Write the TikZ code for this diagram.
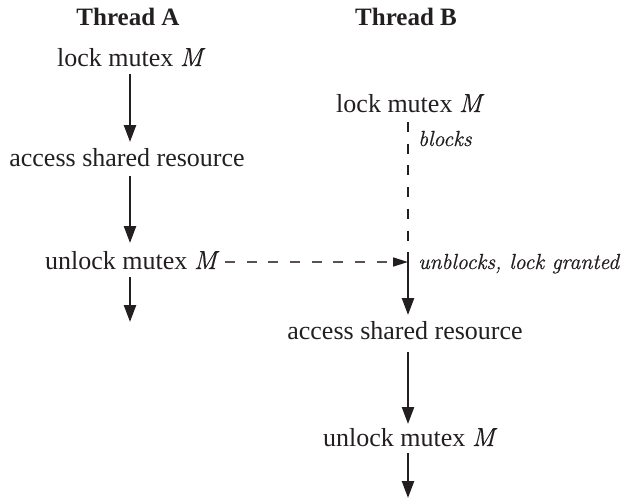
\documentclass[tikz,border=0pt]{standalone}
\usepackage{fontspec}
\setmainfont{Liberation Serif}
\newfontfamily\lmrom{Latin Modern Roman}[ItalicFeatures={FakeBold=0.6}]
\newcommand{\itM}{{\lmrom\itshape M}}
\usetikzlibrary{arrows.meta}
\definecolor{ink}{HTML}{231F20}
\definecolor{dashgray}{HTML}{5B5052}
\begin{document}
\begin{tikzpicture}[x=1pt,y=-1pt,
  lbl/.style={inner sep=0pt,anchor=base,text=ink,font=\fontsize{26}{30}\selectfont},
  hdr/.style={lbl,font=\fontsize{25}{30}\selectfont\bfseries},
  note/.style={lbl,anchor=base west,font=\fontsize{21.8}{26}\selectfont\lmrom\itshape},
  arr/.style={draw=ink,line width=2.4pt,-{Triangle[length=17pt,width=12pt]}},
  waitline/.style={draw=ink,line width=2.4pt,dash pattern=on 10pt off 11.7pt},
  signal/.style={draw=dashgray,line width=1.6pt,dash pattern=on 10pt off 11.7pt,
    -{Triangle[length=15pt,width=9pt,color=ink]}}]
\useasboundingbox (0,0) rectangle (629,498);
% columns
\coordinate (xA) at (130,0);
\coordinate (J) at (408,262);
\coordinate (endA) at (130,322);
\coordinate (endB) at (408,498);
% headers
\node[hdr] (TA) at (128,25) {Thread A};
\node[hdr] (TB) at (406,25) {Thread B};
% thread A
\node[lbl] (A1) at (130,66) {lock mutex \itM};
\node[lbl] (A2) at (127,166) {access shared resource};
\node[lbl] (A3) at (131,269) {unlock mutex \itM};
% thread B
\node[lbl] (B1) at (409,112) {lock mutex \itM};
\node[note] (BL) at (418,146) {blocks};
\node[note] (UB) at (418,269) {unblocks, lock granted};
\node[lbl] (B2) at (405,339) {access shared resource};
\node[lbl] (B3) at (409,446) {unlock mutex \itM};
% thread A arrows
\draw[arr] ([yshift=-8pt]A1.base -| xA) -- ([yshift=24pt]A2.base -| xA);
\draw[arr] ([yshift=-10pt]A2.base -| xA) -- ([yshift=26pt]A3.base -| xA);
\draw[arr] ([yshift=-8pt]A3.base -| xA) -- (endA);
% signal
\draw[signal] ([xshift=8pt]A3.east |- J) -- (J);
% thread B arrows
\draw[waitline] ([yshift=-10pt]B1.base -| J) -- (J);
\draw[arr] (J) -- ([yshift=24pt]B2.base -| J);
\draw[arr] ([yshift=-13pt]B2.base -| J) -- ([yshift=22pt]B3.base -| J);
\draw[arr] ([yshift=-7pt]B3.base -| J) -- (endB);
\end{tikzpicture}
\end{document}
